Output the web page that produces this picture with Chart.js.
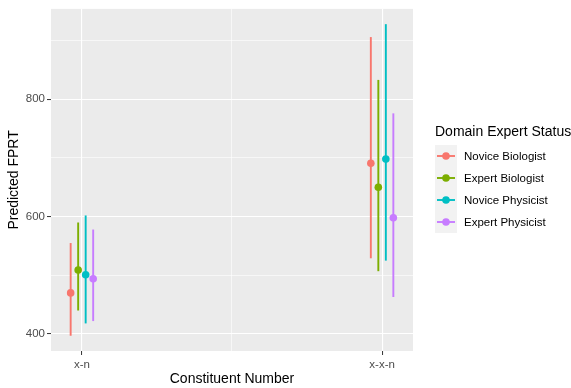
<!DOCTYPE html>
<html>
<head>
<meta charset="utf-8">
<script src="https://cdn.jsdelivr.net/npm/chart.js@4/dist/chart.umd.min.js"></script>
<style>
  html, body { margin: 0; padding: 0; background: #ffffff; }
  #c { display: block; }
</style>
</head>
<body>
<canvas id="c" width="571" height="388"></canvas>
<script>
// Categories on the x axis
const categories = ['x-n', 'x-x-n'];

// Groups (legend order)
const seriesNames = ['Novice Biologist', 'Expert Biologist', 'Novice Physicist', 'Expert Physicist'];
const seriesColors = ['#F8766D', '#7CAE00', '#00BFC4', '#C77CFF'];

// Predicted FPRT with lower / upper interval bounds, per category
const noviceBiologistFit   = [470, 691];
const noviceBiologistLower = [397, 529];
const noviceBiologistUpper = [555, 906];

const expertBiologistFit   = [509, 650];
const expertBiologistLower = [440, 507];
const expertBiologistUpper = [590, 833];

const novicePhysicistFit   = [501, 698];
const novicePhysicistLower = [418, 525];
const novicePhysicistUpper = [602, 928];

const expertPhysicistFit   = [494, 598];
const expertPhysicistLower = [422, 463];
const expertPhysicistUpper = [578, 776];

// Axis ticks
const yMajorTicks = [400, 600, 800];
const yMinorTicks = [500, 700, 900];

const fits   = [noviceBiologistFit, expertBiologistFit, novicePhysicistFit, expertPhysicistFit];
const lowers = [noviceBiologistLower, expertBiologistLower, novicePhysicistLower, expertPhysicistLower];
const uppers = [noviceBiologistUpper, expertBiologistUpper, novicePhysicistUpper, expertPhysicistUpper];

// dodge groups side by side around each category
const dodgeWidth = 0.1;
const nGroups = seriesNames.length;
function dodge(i) { return (i - (nGroups - 1) / 2) * dodgeWidth / nGroups; }

const datasets = seriesNames.map((name, i) => ({
  label: name,
  data: categories.map((c, j) => ({ x: j + 1 + dodge(i), y: fits[i][j], lo: lowers[i][j], hi: uppers[i][j] })),
  backgroundColor: seriesColors[i],
  borderColor: seriesColors[i],
  pointRadius: 3.8,
  pointHoverRadius: 3.8,
  borderWidth: 0
}));

const FONT = '"Liberation Sans", Arial, sans-serif';

const panelBg = {
  id: 'panelBg',
  beforeDraw(chart) {
    const { ctx, chartArea: a } = chart;
    ctx.save();
    ctx.fillStyle = '#EBEBEB';
    ctx.fillRect(a.left, a.top, a.right - a.left, a.bottom - a.top);
    ctx.restore();
  }
};

// vertical interval lines drawn underneath the points
const intervals = {
  id: 'intervals',
  beforeDatasetsDraw(chart) {
    const { ctx, scales: { x, y } } = chart;
    ctx.save();
    ctx.lineWidth = 1.9;
    ctx.lineCap = 'butt';
    chart.data.datasets.forEach(ds => {
      ctx.strokeStyle = ds.borderColor;
      ds.data.forEach(p => {
        const px = x.getPixelForValue(p.x);
        ctx.beginPath();
        ctx.moveTo(px, y.getPixelForValue(p.lo));
        ctx.lineTo(px, y.getPixelForValue(p.hi));
        ctx.stroke();
      });
    });
    ctx.restore();
  }
};

// legend on the right with grey key boxes
const sideLegend = {
  id: 'sideLegend',
  afterDraw(chart) {
    const { ctx } = chart;
    const x0 = 435, keyTop = 145, keyH = 22, keyW = 22;
    ctx.save();
    ctx.fillStyle = '#000000';
    ctx.font = '14px ' + FONT;
    ctx.textBaseline = 'middle';
    ctx.textAlign = 'left';
    ctx.fillText('Domain Expert Status', x0, 132);
    ctx.fillStyle = '#F2F2F2';
    ctx.fillRect(x0, keyTop, keyW, keyH * nGroups);
    chart.data.datasets.forEach((ds, i) => {
      const cy = keyTop + keyH * i + keyH / 2;
      ctx.strokeStyle = ds.borderColor;
      ctx.lineWidth = 1.9;
      ctx.beginPath();
      ctx.moveTo(x0 + 2, cy);
      ctx.lineTo(x0 + keyW - 2, cy);
      ctx.stroke();
      ctx.fillStyle = ds.backgroundColor;
      ctx.beginPath();
      ctx.arc(x0 + keyW / 2, cy, 3.8, 0, Math.PI * 2);
      ctx.fill();
      ctx.fillStyle = '#000000';
      ctx.font = '11.5px ' + FONT;
      ctx.fillText(ds.label, 464, cy + 1);
    });
    ctx.restore();
  }
};

const isMinorX = v => Math.abs(v - Math.round(v)) > 1e-6;
const isMinorY = v => yMinorTicks.includes(v);

new Chart(document.getElementById('c'), {
  type: 'scatter',
  data: { datasets },
  plugins: [panelBg, intervals, sideLegend],
  options: {
    responsive: false,
    animation: false,
    events: [],
    layout: { padding: { top: 7, right: 158, left: 0, bottom: 0 } },
    plugins: { legend: { display: false }, tooltip: { enabled: false } },
    scales: {
      x: {
        type: 'linear',
        min: 0.897,
        max: 2.103,
        afterBuildTicks: s => { s.ticks = [1, 1.5, 2].map(v => ({ value: v })); },
        afterFit: s => { s.height = 37; },
        border: { display: false },
        grid: {
          color: '#FFFFFF',
          lineWidth: c => (c.tick && isMinorX(c.tick.value)) ? 0.6 : 1.1,
          tickColor: c => (c.tick && isMinorX(c.tick.value)) ? 'rgba(0,0,0,0)' : '#333333',
          tickLength: 4,
          tickWidth: 1
        },
        ticks: {
          autoSkip: false,
          maxRotation: 0,
          padding: 3,
          color: '#4D4D4D',
          font: { family: FONT, size: 11.5 },
          callback: v => isMinorX(v) ? '' : categories[Math.round(v) - 1]
        },
        title: {
          display: true,
          text: 'Constituent Number',
          color: '#000000',
          font: { family: FONT, size: 14 },
          padding: { top: 0, bottom: 0 }
        }
      },
      y: {
        type: 'linear',
        min: 371,
        max: 954,
        afterBuildTicks: s => {
          s.ticks = yMajorTicks.concat(yMinorTicks).sort((a, b) => a - b).map(v => ({ value: v }));
        },
        afterFit: s => { s.width = 51; },
        border: { display: false },
        grid: {
          color: '#FFFFFF',
          lineWidth: c => (c.tick && isMinorY(c.tick.value)) ? 0.6 : 1.1,
          tickColor: c => (c.tick && isMinorY(c.tick.value)) ? 'rgba(0,0,0,0)' : '#333333',
          tickLength: 4,
          tickWidth: 1
        },
        ticks: {
          autoSkip: false,
          padding: 2,
          color: '#4D4D4D',
          font: { family: FONT, size: 11.5 },
          callback: v => yMajorTicks.includes(v) ? String(v) : ''
        },
        title: {
          display: true,
          text: 'Predicted FPRT',
          color: '#000000',
          font: { family: FONT, size: 14 },
          padding: { top: 6, bottom: 0 }
        }
      }
    }
  }
});
</script>
</body>
</html>
